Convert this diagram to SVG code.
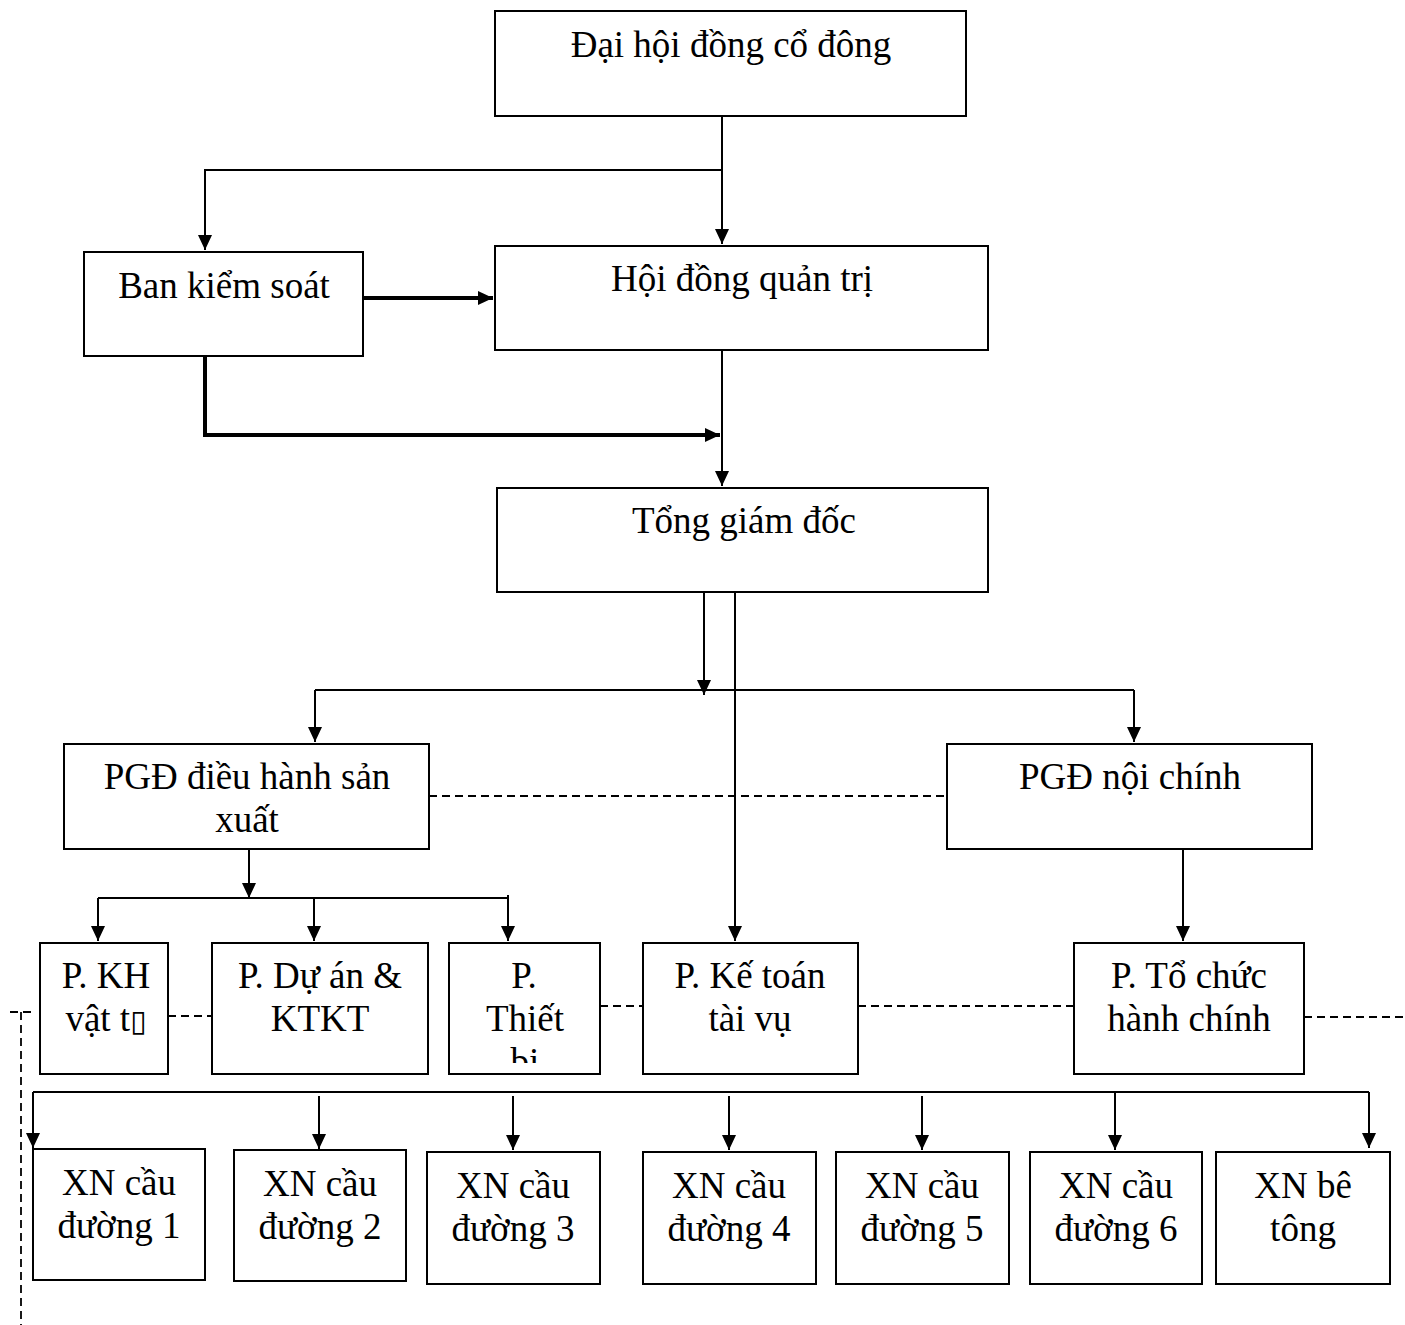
<svg xmlns="http://www.w3.org/2000/svg" width="1405" height="1325" viewBox="0 0 1405 1325">
<style>
.box{fill:#fff;stroke:#000;stroke-width:2}
.t{font-family:"Liberation Serif","Times New Roman",serif;font-size:37px;fill:#000;text-anchor:middle}
.c{fill:none;stroke:#000;stroke-width:2}
.thick{stroke-width:4}
.d{fill:none;stroke:#000;stroke-width:1.8;stroke-dasharray:8 5}
</style>
<defs>
<marker id="ah" markerUnits="userSpaceOnUse" markerWidth="16" markerHeight="14" refX="15" refY="7" orient="auto">
<path d="M0,0 L15,7 L0,14 z" fill="#000"/>
</marker>
<clipPath id="clipThiet"><rect x="449" y="943" width="151" height="120"/></clipPath>
</defs>
<rect width="1405" height="1325" fill="#fff"/>

<g id="connectors">
<path class="c" d="M722,116 V244" marker-end="url(#ah)"/>
<path class="c" d="M722,170 H205 V250" marker-end="url(#ah)"/>
<path class="c thick" d="M363,298 H493" marker-end="url(#ah)"/>
<path class="c thick" d="M205,356 V435 H720" marker-end="url(#ah)"/>
<path class="c" d="M722,350 V486" marker-end="url(#ah)"/>
<path class="c" d="M704,592 V695" marker-end="url(#ah)"/>
<path class="c" d="M315,690 H1134"/>
<path class="c" d="M315,690 V742" marker-end="url(#ah)"/>
<path class="c" d="M1134,690 V742" marker-end="url(#ah)"/>
<path class="c" d="M735,592 V941" marker-end="url(#ah)"/>
<path class="c" d="M249,849 V898" marker-end="url(#ah)"/>
<path class="c" d="M98,898 H508"/>
<path class="c" d="M98,898 V941" marker-end="url(#ah)"/>
<path class="c" d="M314,898 V941" marker-end="url(#ah)"/>
<path class="c" d="M508,895 V941" marker-end="url(#ah)"/>
<path class="c" d="M1183,849 V941" marker-end="url(#ah)"/>
<path class="c" d="M33,1092 H1369"/>
<path class="c" d="M33,1092 V1148" marker-end="url(#ah)"/>
<path class="c" d="M319,1096 V1149" marker-end="url(#ah)"/>
<path class="c" d="M513,1096 V1150" marker-end="url(#ah)"/>
<path class="c" d="M729,1096 V1150" marker-end="url(#ah)"/>
<path class="c" d="M922,1096 V1150" marker-end="url(#ah)"/>
<path class="c" d="M1115,1092 V1150" marker-end="url(#ah)"/>
<path class="c" d="M1369,1092 V1148" marker-end="url(#ah)"/>
<path class="d" d="M429,796 H947"/>
<path class="d" d="M168,1016 H212"/>
<path class="d" d="M368,1040 H390"/>
<path class="d" d="M600,1006 H643"/>
<path class="d" d="M858,1006 H1074"/>
<path class="d" d="M1304,1017 H1405"/>
<path class="d" d="M10,1012 H32"/>
<path class="d" d="M21,1012 V1325"/>
</g>

<g id="n-dhdcd"><rect class="box" x="495" y="11" width="471" height="105"/><text class="t" x="731" y="57">Đại hội đồng cổ đông</text></g>
<g id="n-bks"><rect class="box" x="84" y="252" width="279" height="104"/><text class="t" x="224" y="298">Ban kiểm soát</text></g>
<g id="n-hdqt"><rect class="box" x="495" y="246" width="493" height="104"/><text class="t" x="742" y="291">Hội đồng quản trị</text></g>
<g id="n-tgd"><rect class="box" x="497" y="488" width="491" height="104"/><text class="t" x="744" y="533">Tổng giám đốc</text></g>
<g id="n-pgdsx"><rect class="box" x="64" y="744" width="365" height="105"/><text class="t" x="247" y="789">PGĐ điều hành sản</text><text class="t" x="247" y="832">xuất</text></g>
<g id="n-pgdnc"><rect class="box" x="947" y="744" width="365" height="105"/><text class="t" x="1130" y="789">PGĐ nội chính</text></g>
<g id="n-khvt"><rect class="box" x="40" y="943" width="128" height="131"/><text class="t" x="106" y="988">P. KH</text><text class="t" x="106" y="1031">vật t<tspan font-family="DejaVu Sans" font-size="30">▯</tspan></text></g>
<g id="n-duan"><rect class="box" x="212" y="943" width="216" height="131"/><text class="t" x="320" y="988">P. Dự án &amp;</text><text class="t" x="320" y="1031">KTKT</text></g>
<g id="n-thietbi"><rect class="box" x="449" y="943" width="151" height="131"/><g clip-path="url(#clipThiet)"><text class="t" x="524" y="988">P.</text><text class="t" x="525" y="1031">Thiết</text><text class="t" x="525" y="1074">bị</text></g></g>
<g id="n-ketoan"><rect class="box" x="643" y="943" width="215" height="131"/><text class="t" x="750" y="988">P. Kế toán</text><text class="t" x="750" y="1031">tài vụ</text></g>
<g id="n-tochuc"><rect class="box" x="1074" y="943" width="230" height="131"/><text class="t" x="1189" y="988">P. Tổ chức</text><text class="t" x="1189" y="1031">hành chính</text></g>

<g id="n-xn1"><rect class="box" x="33" y="1149" width="172" height="131"/><text class="t" x="119" y="1195">XN cầu</text><text class="t" x="119" y="1238">đường 1</text></g>
<g id="n-xn2"><rect class="box" x="234" y="1150" width="172" height="131"/><text class="t" x="320" y="1196">XN cầu</text><text class="t" x="320" y="1239">đường 2</text></g>
<g id="n-xn3"><rect class="box" x="427" y="1152" width="173" height="132"/><text class="t" x="513" y="1198">XN cầu</text><text class="t" x="513" y="1241">đường 3</text></g>
<g id="n-xn4"><rect class="box" x="643" y="1152" width="173" height="132"/><text class="t" x="729" y="1198">XN cầu</text><text class="t" x="729" y="1241">đường 4</text></g>
<g id="n-xn5"><rect class="box" x="836" y="1152" width="173" height="132"/><text class="t" x="922" y="1198">XN cầu</text><text class="t" x="922" y="1241">đường 5</text></g>
<g id="n-xn6"><rect class="box" x="1030" y="1152" width="172" height="132"/><text class="t" x="1116" y="1198">XN cầu</text><text class="t" x="1116" y="1241">đường 6</text></g>
<g id="n-xnbt"><rect class="box" x="1216" y="1152" width="174" height="132"/><text class="t" x="1303" y="1198">XN bê</text><text class="t" x="1303" y="1241">tông</text></g>
</svg>
